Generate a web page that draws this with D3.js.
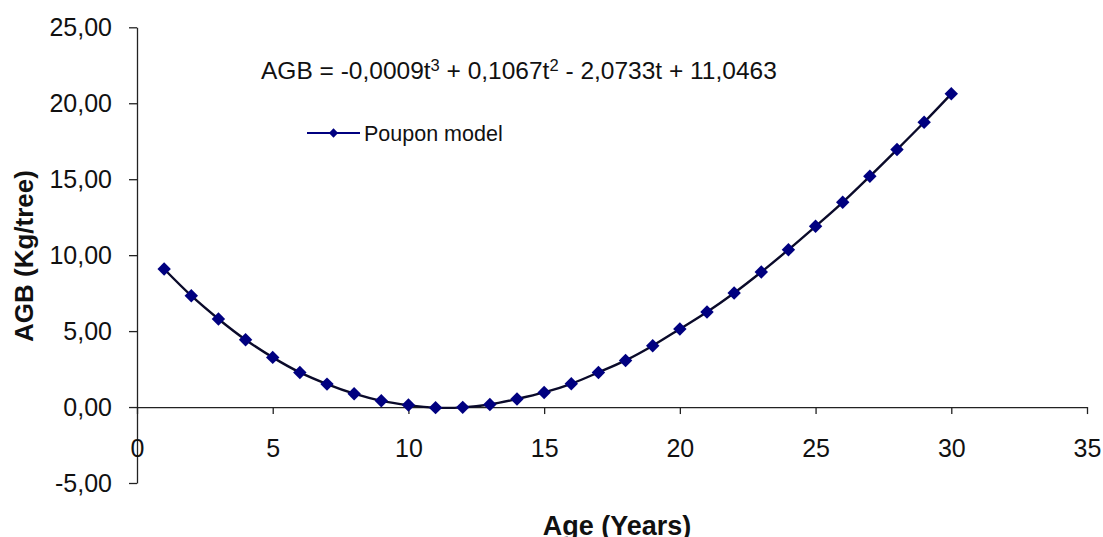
<!DOCTYPE html>
<html>
<head>
<meta charset="utf-8">
<script src="https://cdn.jsdelivr.net/npm/d3@7"></script>
<style>
  body { margin: 0; background: #fff; }
  svg text { font-family: "Liberation Sans", Arial, sans-serif; fill: #111; }
  .axis path, .axis line { stroke: #222; stroke-width: 1.3; }
</style>
</head>
<body>
<svg id="chart" width="1103" height="537"></svg>
<script>
// Age (years) and AGB values
const ages = [1, 2, 3, 4, 5, 6, 7, 8, 9, 10, 11, 12, 13, 14, 15,
              16, 17, 18, 19, 20, 21, 22, 23, 24, 25, 26, 27, 28, 29, 30];
const agb = [9.09, 7.33, 5.80, 4.43, 3.27, 2.28, 1.51, 0.88, 0.41, 0.13, -0.04, -0.02, 0.17, 0.53, 0.96,
             1.53, 2.28, 3.07, 4.04, 5.14, 6.26, 7.51, 8.89, 10.36, 11.90, 13.48, 15.19, 16.95, 18.75, 20.62];
const xTicks = [0, 5, 10, 15, 20, 25, 30, 35];
const yTicks = [-5, 0, 5, 10, 15, 20, 25];
const seriesName = "Poupon model";

let data = ages.map(function(t, i) { return {t: t, v: agb[i]}; });

let svg = d3.select("#chart");

// Scales
let xScale = d3.scaleLinear().domain([0, 35]).range([137, 1087]);
let yScale = d3.scaleLinear().domain([-5, 25]).range([483, 27.3]);

// Excel style: comma decimals, plain hyphen for negatives
let comma = function(d) { return d.toFixed(2).replace(".", ","); };

// Y axis
let yAxis = svg.append("g")
  .attr("class", "axis")
  .attr("transform", `translate(${xScale(0)}, 0)`)
  .call(d3.axisLeft(yScale).tickValues(yTicks).tickSize(8).tickSizeOuter(0).tickPadding(17).tickFormat(comma));
yAxis.selectAll("text").style("font-size", "25px");

// X axis crossing at zero
let xAxis = svg.append("g")
  .attr("class", "axis")
  .attr("transform", `translate(0, ${yScale(0)})`)
  .call(d3.axisBottom(xScale).tickValues(xTicks).tickSize(7).tickSizeOuter(0).tickPadding(25));
xAxis.selectAll("text").style("font-size", "25px");

// Fitted curve
let line = d3.line()
  .x(function(d) { return xScale(d.t); })
  .y(function(d) { return yScale(d.v); })
  .curve(d3.curveCatmullRom);

svg.append("path")
  .datum(data)
  .attr("fill", "none")
  .attr("stroke", "#0a0a2a")
  .attr("stroke-width", 2.4)
  .attr("d", line);

// Diamond markers
let diamond = d3.symbol().type(d3.symbolDiamond2).size(115);
svg.selectAll(".pt")
  .data(data)
  .join("path")
  .attr("class", "pt")
  .attr("transform", function(d) { return `translate(${xScale(d.t)}, ${yScale(d.v)})`; })
  .attr("d", diamond)
  .attr("fill", "#000080");

// Equation
let eq = svg.append("text")
  .attr("x", 261)
  .attr("y", 79)
  .style("font-size", "24.5px");
eq.append("tspan").text("AGB = -0,0009t");
eq.append("tspan").attr("dy", -8).style("font-size", "16.5px").text("3");
eq.append("tspan").attr("dy", 8).text(" + 0,1067t");
eq.append("tspan").attr("dy", -8).style("font-size", "16.5px").text("2");
eq.append("tspan").attr("dy", 8).text(" - 2,0733t + 11,0463");

// Legend
let legend = svg.append("g").attr("transform", "translate(307, 133)");
legend.append("line")
  .attr("x1", 0).attr("x2", 53)
  .attr("stroke", "#000080").attr("stroke-width", 2);
legend.append("path")
  .attr("transform", "translate(26.5, 0)")
  .attr("d", d3.symbol().type(d3.symbolDiamond2).size(55))
  .attr("fill", "#000080");
legend.append("text")
  .attr("x", 57).attr("y", 7.5)
  .style("font-size", "21.5px")
  .text(seriesName);

// Axis titles
svg.append("text")
  .attr("transform", "translate(33, 256) rotate(-90)")
  .attr("text-anchor", "middle")
  .style("font-size", "26px")
  .style("font-weight", "bold")
  .text("AGB (Kg/tree)");

svg.append("text")
  .attr("x", 617)
  .attr("y", 535)
  .attr("text-anchor", "middle")
  .style("font-size", "27px")
  .style("font-weight", "bold")
  .text("Age (Years)");
</script>
</body>
</html>
